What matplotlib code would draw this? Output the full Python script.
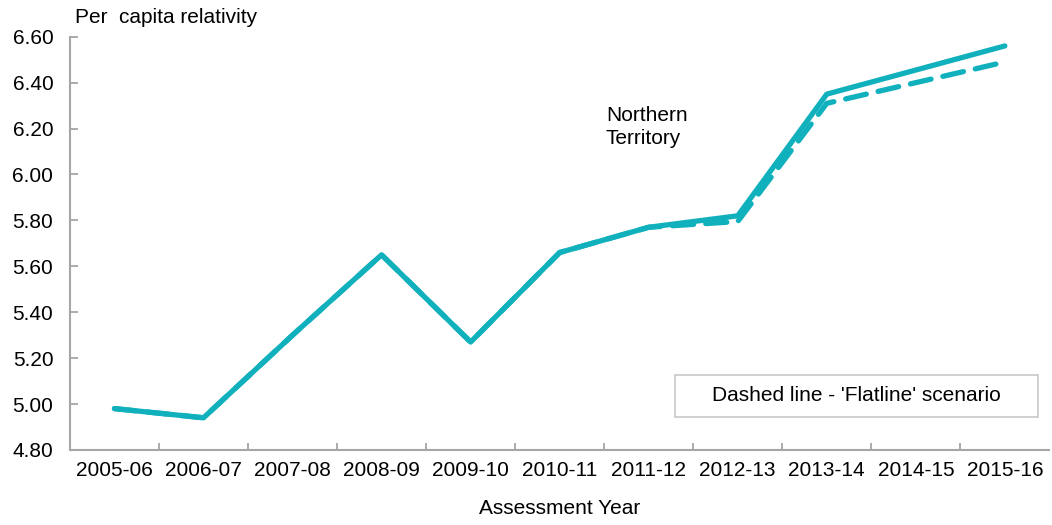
import matplotlib
matplotlib.use('Agg')
import matplotlib.pyplot as plt
from matplotlib.patches import Rectangle

plt.rcParams['font.family'] = ['Liberation Sans', 'DejaVu Sans']

years = ['2005-06', '2006-07', '2007-08', '2008-09', '2009-10', '2010-11',
         '2011-12', '2012-13', '2013-14', '2014-15', '2015-16']
actual = [4.98, 4.94, 5.30, 5.65, 5.27, 5.66, 5.77, 5.82, 6.35, 6.455, 6.56]
flatline = [4.98, 4.94, 5.30, 5.65, 5.27, 5.66, 5.77, 5.795, 6.31, 6.40, 6.49]
yticks = [4.80, 5.00, 5.20, 5.40, 5.60, 5.80, 6.00, 6.20, 6.40, 6.60]

teal = '#10B1BD'
grey = '#A6A6A6'
fs = 15

fig = plt.figure(figsize=(10.52, 5.25), dpi=100)
ax = fig.add_axes([0.0665, 0.143, 0.931, 0.787])

x = list(range(len(years)))
ax.plot(x, flatline, color=teal, lw=3.8, ls=(0, (4, 2.3)), solid_capstyle='round',
        dash_capstyle='round', zorder=2)
ax.plot(x, actual, color=teal, lw=3.8, solid_capstyle='round', zorder=3)

ax.set_xlim(-0.5, len(years) - 0.5)
ax.set_ylim(4.80, 6.60)
ax.set_yticks(yticks)
ax.set_yticklabels([f'{v:.2f}' for v in yticks])
ax.set_xticks(x)
ax.set_xticklabels(years)
ax.set_xticks([i + 0.5 for i in x[:-1]], minor=True)

for s in ['top', 'right']:
    ax.spines[s].set_visible(False)
for s in ['left', 'bottom']:
    ax.spines[s].set_color(grey)
    ax.spines[s].set_linewidth(1.5)

ax.tick_params(axis='x', which='major', length=0, labelsize=fs, pad=8)
ax.tick_params(axis='x', which='minor', direction='in', length=5, color=grey, width=1.3)
ax.tick_params(axis='y', direction='in', length=6, color=grey, width=1.3,
               labelsize=fs, pad=12)

ax.set_xlabel('Assessment Year', fontsize=fs, labelpad=14)
fig.text(0.071, 0.967, 'Per  capita relativity', fontsize=fs, va='center')
ax.text(5.52, 6.30, 'Northern\nTerritory', fontsize=fs, va='top', ha='left',
        linespacing=1.3)

ax.add_patch(Rectangle((0.618, 0.080), 0.370, 0.102, transform=ax.transAxes,
                       fc='white', ec='#C8C8C8', lw=1.2, zorder=4))
ax.text(0.803, 0.131, "Dashed line - 'Flatline' scenario", transform=ax.transAxes,
        fontsize=fs, ha='center', va='center', zorder=5)

fig.savefig('out.png', dpi=100)
